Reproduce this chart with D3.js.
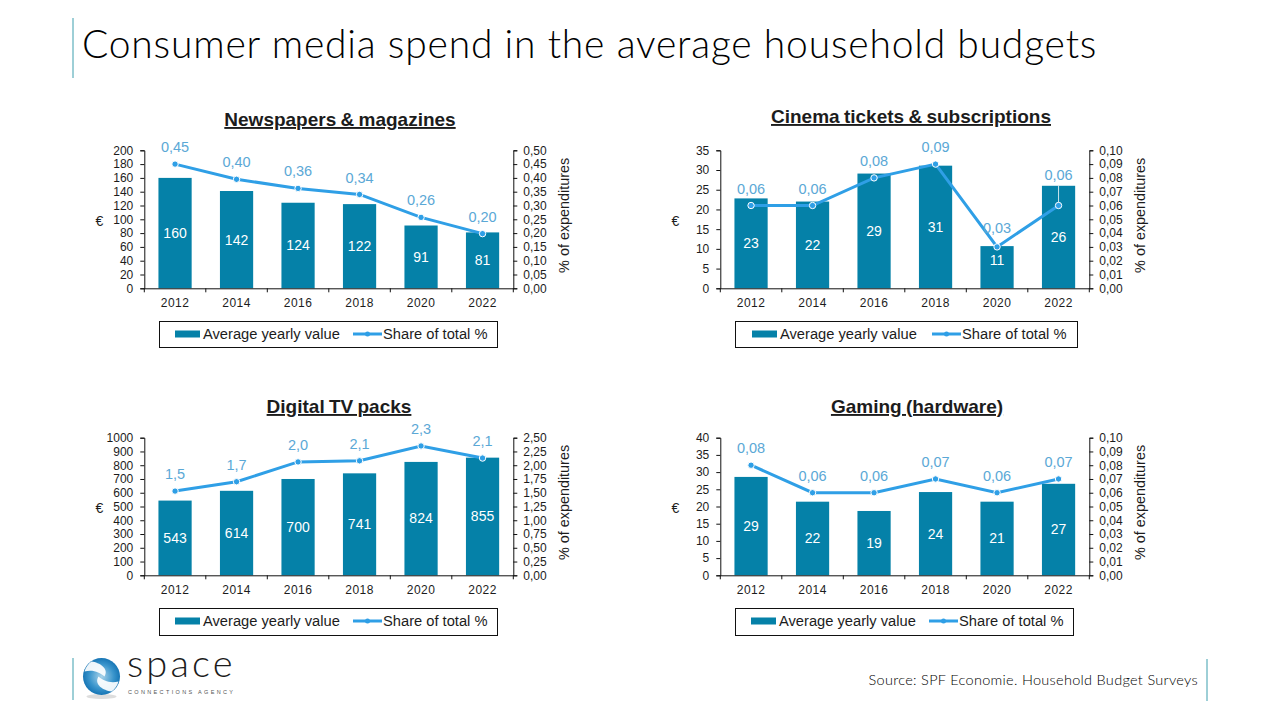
<!DOCTYPE html>
<html>
<head>
<meta charset="utf-8">
<script src="https://cdnjs.cloudflare.com/ajax/libs/d3/7.8.5/d3.min.js"></script>
<style>
html, body { margin: 0; padding: 0; background: #fff; }
svg { display: block; }
text { font-family: "Liberation Sans", Arial, sans-serif; fill: #1c1c1c; }
</style>
</head>
<body>
<div id="chart"></div>
<script>
const years = ["2012", "2014", "2016", "2018", "2020", "2022"];

const newspaperSpend = [160, 141, 124, 122, 91, 81];
const newspaperSpendLabels = ["160", "142", "124", "122", "91", "81"];
const newspaperShare = [0.45, 0.395, 0.362, 0.34, 0.257, 0.198];
const newspaperShareLabels = ["0,45", "0,40", "0,36", "0,34", "0,26", "0,20"];
const newspaperLeftTicks = [0, 20, 40, 60, 80, 100, 120, 140, 160, 180, 200];
const newspaperRightTicks = [0, 0.05, 0.1, 0.15, 0.2, 0.25, 0.3, 0.35, 0.4, 0.45, 0.5];

const cinemaSpend = [22.8, 22, 29.1, 31.1, 10.7, 26];
const cinemaSpendLabels = ["23", "22", "29", "31", "11", "26"];
const cinemaShare = [0.06, 0.06, 0.08, 0.09, 0.03, 0.06];
const cinemaShareLabels = ["0,06", "0,06", "0,08", "0,09", "0,03", "0,06"];
const cinemaLeftTicks = [0, 5, 10, 15, 20, 25, 30, 35];
const cinemaRightTicks = [0, 0.01, 0.02, 0.03, 0.04, 0.05, 0.06, 0.07, 0.08, 0.09, 0.1];

const tvSpend = [543, 614, 700, 741, 824, 855];
const tvSpendLabels = ["543", "614", "700", "741", "824", "855"];
const tvShare = [1.53, 1.7, 2.06, 2.08, 2.35, 2.13];
const tvShareLabels = ["1,5", "1,7", "2,0", "2,1", "2,3", "2,1"];
const tvLeftTicks = [0, 100, 200, 300, 400, 500, 600, 700, 800, 900, 1000];
const tvRightTicks = [0, 0.25, 0.5, 0.75, 1, 1.25, 1.5, 1.75, 2, 2.25, 2.5];

const gamingSpend = [28.6, 21.4, 18.7, 24.2, 21.4, 26.6];
const gamingSpendLabels = ["29", "22", "19", "24", "21", "27"];
const gamingShare = [0.08, 0.06, 0.06, 0.07, 0.06, 0.07];
const gamingShareLabels = ["0,08", "0,06", "0,06", "0,07", "0,06", "0,07"];
const gamingLeftTicks = [0, 5, 10, 15, 20, 25, 30, 35, 40];
const gamingRightTicks = [0, 0.01, 0.02, 0.03, 0.04, 0.05, 0.06, 0.07, 0.08, 0.09, 0.1];

const barColor = "#0581a8";
const lineColor = "#2f9fe6";
const shareTextColor = "#5ba8d6";
const tealRule = "#3d9fae";

const svg = d3.select("#chart").append("svg")
    .attr("width", 1280)
    .attr("height", 720);

// Slide title and the thin rules around it
svg.append("line").attr("x1", 73).attr("x2", 73).attr("y1", 18).attr("y2", 78)
    .attr("stroke", tealRule).attr("stroke-width", 1);
svg.append("text")
    .attr("x", 82).attr("y", 58)
    .attr("font-size", 39)
    .attr("letter-spacing", 0.8)
    .style("font-family", "Lato, sans-serif")
    .style("font-weight", 300)
    .style("fill", "#000")
    .text("Consumer media spend in the average household budgets");

svg.append("line").attr("x1", 1207).attr("x2", 1207).attr("y1", 659).attr("y2", 701)
    .attr("stroke", tealRule).attr("stroke-width", 1);
svg.append("text")
    .attr("x", 1198).attr("y", 685)
    .attr("text-anchor", "end")
    .attr("font-size", 14.5)
    .attr("letter-spacing", 0.3)
    .style("font-family", "Lato, sans-serif")
    .style("font-weight", 300)
    .style("fill", "#000")
    .text("Source: SPF Economie. Household Budget Surveys");

drawLogo();

const panels = [
    { title: "Newspapers & magazines", spend: newspaperSpend, spendLabels: newspaperSpendLabels,
      share: newspaperShare, shareLabels: newspaperShareLabels, leftTicks: newspaperLeftTicks, rightTicks: newspaperRightTicks,
      x0: 144.3, y0: 150.3, h: 138, titleX: 340, titleY: 126, legendX: 159, legendW: 338, legendY: 321, legendH: 26, swatchX: 16, lineX: 194 },
    { title: "Cinema tickets & subscriptions", spend: cinemaSpend, spendLabels: cinemaSpendLabels,
      share: cinemaShare, shareLabels: cinemaShareLabels, leftTicks: cinemaLeftTicks, rightTicks: cinemaRightTicks,
      x0: 720.3, y0: 150.3, h: 138, titleX: 911, titleY: 123, legendX: 735, legendW: 342, legendY: 321, legendH: 26, swatchX: 17, lineX: 197 },
    { title: "Digital TV packs", spend: tvSpend, spendLabels: tvSpendLabels,
      share: tvShare, shareLabels: tvShareLabels, leftTicks: tvLeftTicks, rightTicks: tvRightTicks,
      x0: 144.3, y0: 437.7, h: 137.6, titleX: 339, titleY: 413, legendX: 159, legendW: 338, legendY: 608, legendH: 27, swatchX: 16, lineX: 194 },
    { title: "Gaming (hardware)", spend: gamingSpend, spendLabels: gamingSpendLabels,
      share: gamingShare, shareLabels: gamingShareLabels, leftTicks: gamingLeftTicks, rightTicks: gamingRightTicks,
      x0: 720.3, y0: 437.7, h: 137.6, titleX: 917, titleY: 413, legendX: 735, legendW: 338, legendY: 608, legendH: 27, swatchX: 16, lineX: 194 }
];

panels.forEach(drawPanel);

function drawPanel(p) {
    const w = 369;
    const g = svg.append("g").attr("transform", `translate(${p.x0},${p.y0})`);

    const x = d3.scaleBand().domain(years).range([0, w]).paddingInner(0.46).paddingOuter(0.23);
    const yLeft = d3.scaleLinear().domain(d3.extent(p.leftTicks)).range([p.h, 0]);
    const yRight = d3.scaleLinear().domain(d3.extent(p.rightTicks)).range([p.h, 0]);
    const cx = d => x(d) + x.bandwidth() / 2;

    // bars
    g.selectAll(".bar").data(years).join("rect")
        .attr("x", d => x(d))
        .attr("width", x.bandwidth())
        .attr("y", (d, i) => yLeft(p.spend[i]))
        .attr("height", (d, i) => p.h - yLeft(p.spend[i]))
        .attr("fill", barColor);

    // axes
    const leftAxis = d3.axisLeft(yLeft).tickValues(p.leftTicks).tickSize(4).tickPadding(7).tickFormat(d3.format("d"));
    const rightAxis = d3.axisRight(yRight).tickValues(p.rightTicks).tickSize(4).tickPadding(6)
        .tickFormat(d => d.toFixed(2).replace(".", ","));
    const bottomAxis = d3.axisBottom(x).tickSize(0).tickPadding(10);

    const styleAxis = a => {
        a.selectAll("path").attr("stroke", "#111").attr("stroke-width", 1);
        a.selectAll("line").attr("stroke", "#111").attr("stroke-width", 1);
        a.selectAll("text").attr("font-size", 12).attr("fill", "#1c1c1c").style("font-family", "'Liberation Sans', Arial, sans-serif");
    };

    g.append("g").call(leftAxis).call(styleAxis);
    g.append("g").attr("transform", `translate(${w},0)`).call(rightAxis).call(styleAxis);
    g.append("g").attr("transform", `translate(0,${p.h})`).call(bottomAxis).call(styleAxis)
        .selectAll("text").attr("letter-spacing", 0.5);

    // category tick marks sit between the bars
    const step = x.step();
    g.selectAll(".cat-tick").data(d3.range(years.length + 1)).join("line")
        .attr("x1", d => d * step).attr("x2", d => d * step)
        .attr("y1", p.h).attr("y2", p.h + 4)
        .attr("stroke", "#111");

    // a short bar right under its marker: labels were pushed clear of the marker
    const crowded = i => p.h - yLeft(p.spend[i]) < 50 && Math.abs(yLeft(p.spend[i]) - yRight(p.share[i])) < 5;
    // a marker sunk into its bar: label goes over the bar, with a leader line
    const sunk = i => yRight(p.share[i]) > yLeft(p.spend[i]) + 3 && yRight(p.share[i]) - 17 + 7 > yLeft(p.spend[i]);
    const shareLabelY = i => {
        if (sunk(i)) return yLeft(p.spend[i]) - 11;
        return yRight(p.share[i]) - (crowded(i) ? 19 : 17);
    };

    // bar labels, centred in the bar
    g.selectAll(".bar-label").data(years).join("text")
        .attr("x", d => cx(d))
        .attr("y", (d, i) => (yLeft(p.spend[i]) + p.h) / 2 - (crowded(i) ? 7 : 0))
        .attr("dy", "0.35em")
        .attr("text-anchor", "middle")
        .attr("font-size", 14)
        .style("fill", "#fff")
        .text((d, i) => p.spendLabels[i]);

    g.selectAll(".leader").data(years.filter((d, i) => sunk(i))).join("line")
        .attr("x1", d => cx(d)).attr("x2", d => cx(d))
        .attr("y1", d => yLeft(p.spend[years.indexOf(d)]))
        .attr("y2", d => yRight(p.share[years.indexOf(d)]))
        .attr("stroke", "#fff")
        .attr("stroke-width", 0.8);

    // share line
    const line = d3.line()
        .x(d => cx(d))
        .y((d, i) => yRight(p.share[i]));
    g.append("path").datum(years)
        .attr("fill", "none")
        .attr("stroke", lineColor)
        .attr("stroke-width", 3)
        .attr("d", line);

    g.selectAll(".dot").data(years).join("circle")
        .attr("cx", d => cx(d))
        .attr("cy", (d, i) => yRight(p.share[i]))
        .attr("r", 3.2)
        .attr("fill", lineColor)
        .attr("stroke", "#fff")
        .attr("stroke-width", 1);

    g.selectAll(".share-label").data(years).join("text")
        .attr("x", d => cx(d))
        .attr("y", (d, i) => shareLabelY(i))
        .attr("dy", "0.35em")
        .attr("text-anchor", "middle")
        .attr("font-size", 14.5)
        .style("fill", shareTextColor)
        .text((d, i) => p.shareLabels[i]);

    // axis titles
    g.append("text")
        .attr("x", -45)
        .attr("y", p.h / 2 + 2)
        .attr("text-anchor", "middle")
        .attr("dy", "0.35em")
        .attr("font-size", 14)
        .text("€");
    g.append("text")
        .attr("transform", `translate(${w + 50.5},${p.h / 2 - 4}) rotate(-90)`)
        .attr("text-anchor", "middle")
        .attr("dy", "0.35em")
        .attr("font-size", 14.4)
        .text("% of expenditures");

    // panel title
    svg.append("text")
        .attr("x", p.titleX).attr("y", p.titleY)
        .attr("text-anchor", "middle")
        .attr("font-size", 19)
        .attr("font-weight", "bold")
        .attr("word-spacing", -1)
        .attr("text-decoration", "underline")
        .text(p.title);

    drawLegend(p);
}

function drawLegend(p) {
    const g = svg.append("g").attr("transform", `translate(${p.legendX},${p.legendY})`);
    const midY = 13;
    g.append("rect").attr("x", 0.5).attr("y", 0.5)
        .attr("width", p.legendW).attr("height", p.legendH)
        .attr("fill", "#fff").attr("stroke", "#111").attr("stroke-width", 1);
    g.append("rect").attr("x", p.swatchX).attr("y", midY - 3.5).attr("width", 25).attr("height", 7).attr("fill", barColor);
    g.append("text").attr("x", p.swatchX + 28).attr("y", midY).attr("dy", "0.35em").attr("font-size", 14.7).text("Average yearly value");
    g.append("line").attr("x1", p.lineX).attr("x2", p.lineX + 29).attr("y1", midY).attr("y2", midY)
        .attr("stroke", lineColor).attr("stroke-width", 3);
    g.append("circle").attr("cx", p.lineX + 14.5).attr("cy", midY).attr("r", 2.5).attr("fill", lineColor);
    g.append("text").attr("x", p.lineX + 30).attr("y", midY).attr("dy", "0.35em").attr("font-size", 14.7).text("Share of total %");
}

function drawLogo() {
    svg.append("line").attr("x1", 73).attr("x2", 73).attr("y1", 658).attr("y2", 700)
        .attr("stroke", tealRule).attr("stroke-width", 1);
    const defs = svg.append("defs");
    const grad = defs.append("radialGradient").attr("id", "ball").attr("cx", "50%").attr("cy", "50%").attr("r", "55%");
    grad.append("stop").attr("offset", "0%").attr("stop-color", "#a9d3ea");
    grad.append("stop").attr("offset", "60%").attr("stop-color", "#3a95cc");
    grad.append("stop").attr("offset", "100%").attr("stop-color", "#0c6cae");
    const ball = svg.append("g").attr("transform", "translate(101.5,676.5)");
    ball.append("ellipse").attr("cy", 20).attr("rx", 15).attr("ry", 2.5).attr("fill", "#ddd");
    ball.append("circle").attr("r", 18.5).attr("fill", "url(#ball)");
    ball.append("path").attr("d", "M-10,-15 C-2,-14 8,-8 3,0 C-2,-4 -8,-7 -17,-5 C-16,-9 -13,-13 -10,-15Z").attr("fill", "#fff").attr("opacity", 0.92);
    ball.append("path").attr("d", "M10,15 C2,14 -8,8 -3,0 C2,4 8,7 17,5 C16,9 13,13 10,15Z").attr("fill", "#fff").attr("opacity", 0.92);

    svg.append("text").attr("x", 127).attr("y", 677)
        .attr("font-size", 38)
        .attr("letter-spacing", 3.2)
        .style("font-family", "Lato, sans-serif")
        .style("font-weight", 300)
        .text("space");
    svg.append("text").attr("x", 128).attr("y", 694)
        .attr("font-size", 5.5)
        .attr("letter-spacing", 2.35)
        .style("fill", "#555")
        .text("CONNECTIONS AGENCY");
}
</script>
</body>
</html>
